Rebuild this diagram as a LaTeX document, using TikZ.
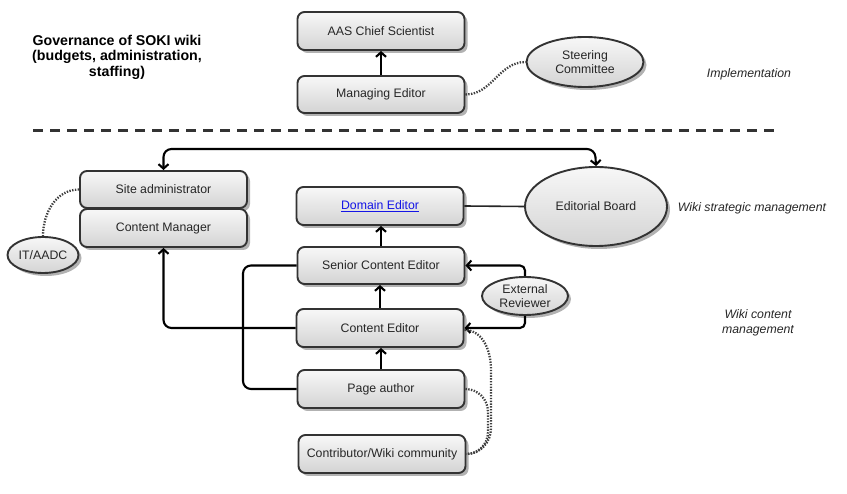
\documentclass[tikz,border=0pt]{standalone}
\usepackage{fontspec}
\setmainfont{Liberation Sans}
\usetikzlibrary{shapes.geometric,shadows,arrows.meta,calc}
\definecolor{linkblue}{RGB}{20,20,230}
\begin{document}
\begin{tikzpicture}[x=1pt,y=1pt,
  base/.style={draw=black!80, line width=1.9pt, top color=black!3, bottom color=black!17,
     drop shadow={shadow xshift=3pt,shadow yshift=-3pt,fill=black,opacity=0.3},
     font=\fontsize{12.3}{14.5}\selectfont, text=black!85, align=center, inner sep=0pt},
  box/.style={base, rectangle, rounded corners=7pt, minimum width=167pt, minimum height=38pt},
  oval/.style={base, ellipse},
  conn/.style={line width=2.1pt, black},
  arr/.style={conn, -{Straight Barb[length=4.5pt,width=10pt]}},
  darr/.style={conn, {Straight Barb[length=4.5pt,width=10pt]}-{Straight Barb[length=4.5pt,width=10pt]}},
  dots/.style={line width=2.3pt, black!75, dash pattern=on 1.4pt off 1.4pt},
  lbl/.style={font=\fontsize{12.3}{15.5}\selectfont\itshape, text=black!85, align=center},
]
\useasboundingbox (0,0) rectangle (847,-494);

% title and labels
\node[font=\fontsize{14.2}{15.5}\selectfont\bfseries, align=center, text=black] (title) at (117,-57)
  {Governance of SOKI wiki\\(budgets, administration,\\staffing)};
\node[lbl] (impl) at (749,-74) {Implementation};
\node[lbl] (strat) at (752,-208) {Wiki strategic management};
\node[lbl] (content) at (758,-323) {Wiki content\\management};

% divider
\coordinate (d1) at (33,-131);
\coordinate (d2) at (777,-131);
\draw[line width=3pt, black!80, dash pattern=on 10pt off 7pt] (d1) -- (d2);

% top section
\node[box] (aas) at (381,-31) {AAS Chief Scientist};
\node[box, minimum height=37pt] (me) at (381,-94.5) {Managing Editor};
\node[oval, minimum width=117pt, minimum height=50pt] (sc) at (585,-62) {Steering\\Committee};

% lower section
\node[box, minimum height=37pt] (sa) at (163.5,-189.5) {Site administrator};
\node[box] (cm) at (163.5,-228) {Content Manager};
\node[oval, minimum width=71pt, minimum height=36pt] (it) at (43,-255) {IT/AADC};

\node[box] (de) at (380,-206) {\textcolor{linkblue}{\underline{Domain Editor}}};
\node[oval, minimum width=142pt, minimum height=79pt] (eb) at (596,-206.5) {Editorial Board};

\node[box, minimum height=37pt] (sce) at (381,-265.5) {Senior Content Editor};
\node[box] (ce) at (380,-328) {Content Editor};
\node[box] (pa) at (381,-389) {Page author};
\node[box] (cc) at (382,-454) {Contributor/Wiki community};
\node[oval, minimum width=86pt, minimum height=38pt] (er) at (525,-296) {External\\Reviewer};

% connectors
\draw[arr] (me.north) -- (me.north |- aas.south);
\draw[dots] (me.east) to[out=0,in=180] (sc.west);

\draw[darr, rounded corners=8pt] (sa.north) -- (163.5,-149) -- (595,-149) -- (eb.north);
\draw[dots] (sa.west) to[out=180,in=90] (it.north);
\draw[conn, line width=1.6pt, black!85] (de.east) -- (eb.west);

\draw[arr] (sce.north) -- (sce.north |- de.south);
\draw[arr] (ce.north) -- (ce.north |- sce.south);
\draw[arr] (pa.north) -- (pa.north |- ce.south);

\draw[conn, rounded corners=8pt] (sce.west) -- (243,-265.5) |- (pa.west);
\draw[arr, rounded corners=8pt] (ce.west) -| (cm.south);

\draw[arr, rounded corners=5pt] (er.north) |- (sce.east);
\draw[arr, rounded corners=5pt] (er.south) |- (ce.east);

\draw[dots] ([yshift=-2pt]ce.east) to[out=0,in=90] (491,-370) -- (491,-428) to[out=-90,in=0] (cc.east);
\draw[dots] (pa.east) to[out=0,in=90] (488,-412) -- (488,-432) to[out=-90,in=0] (cc.east);
\end{tikzpicture}
\end{document}
